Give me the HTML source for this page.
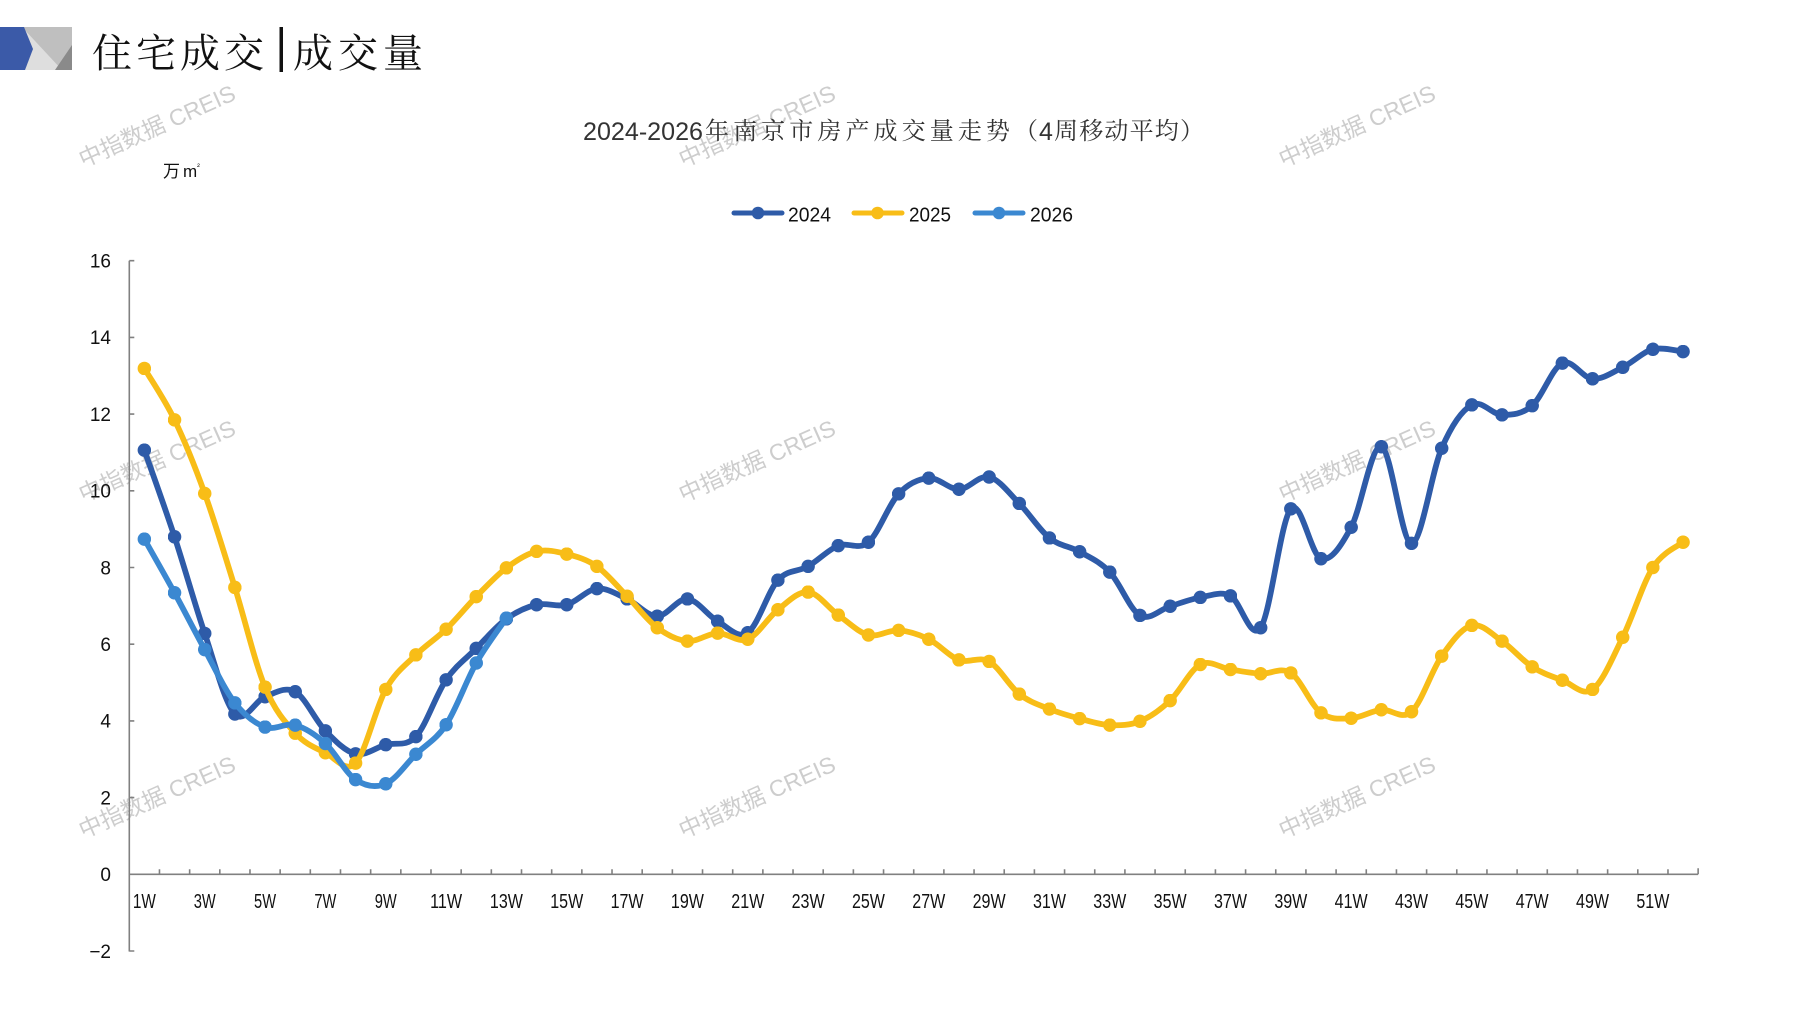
<!DOCTYPE html>
<html>
<head>
<meta charset="utf-8">
<style>
  html,body{margin:0;padding:0;background:#fff;}
  body{width:1797px;height:1010px;overflow:hidden;position:relative;}
  svg{display:block;}
</style>
</head>
<body>
<svg width="1797" height="1010" viewBox="0 0 1797 1010" xmlns="http://www.w3.org/2000/svg">
  <defs>
    <marker id="m24" viewBox="-1 -1 2 2" markerWidth="2.35" markerHeight="2.35" markerUnits="strokeWidth" refX="0" refY="0"><circle r="1" fill="#2e5ba8"/></marker>
    <marker id="m25" viewBox="-1 -1 2 2" markerWidth="2.35" markerHeight="2.35" markerUnits="strokeWidth" refX="0" refY="0"><circle r="1" fill="#f8bd17"/></marker>
    <marker id="m26" viewBox="-1 -1 2 2" markerWidth="2.35" markerHeight="2.35" markerUnits="strokeWidth" refX="0" refY="0"><circle r="1" fill="#3b88d1"/></marker>
  </defs>

  <!-- header graphic -->
  <g transform="translate(0,27)">
    <rect x="0" y="0" width="72" height="43" fill="#bfbfbf"/>
    <polygon points="22,0 62,43 22,43" fill="#dedede"/>
    <polygon points="72,18 72,43 55,43" fill="#8a8a8a"/>
    <polygon points="0,0 24,0 33,22 25,43 0,43" fill="#3b5aa8"/>
  </g>
  <text x="92" y="67" font-family="'Noto Serif CJK SC','Liberation Serif',serif" font-size="40" fill="#111" textLength="172" lengthAdjust="spacing">住宅成交</text>
  <rect x="279.5" y="27" width="3.5" height="45" fill="#111"/>
  <text x="293" y="67" font-family="'Noto Serif CJK SC','Liberation Serif',serif" font-size="40" fill="#111" textLength="130" lengthAdjust="spacing">成交量</text>

  <!-- watermarks -->
  <g font-family="'Liberation Sans','Noto Sans CJK SC',sans-serif" font-size="23" fill="#cdcdcd" text-anchor="middle" dominant-baseline="central">
    <text transform="translate(157,126) rotate(-24)">中指数据 CREIS</text>
    <text transform="translate(757,126) rotate(-24)">中指数据 CREIS</text>
    <text transform="translate(1357,126) rotate(-24)">中指数据 CREIS</text>
    <text transform="translate(157,461) rotate(-24)">中指数据 CREIS</text>
    <text transform="translate(757,461) rotate(-24)">中指数据 CREIS</text>
    <text transform="translate(1357,461) rotate(-24)">中指数据 CREIS</text>
    <text transform="translate(157,797) rotate(-24)">中指数据 CREIS</text>
    <text transform="translate(757,797) rotate(-24)">中指数据 CREIS</text>
    <text transform="translate(1357,797) rotate(-24)">中指数据 CREIS</text>
  </g>

  <!-- chart title -->
  <g fill="#333">
    <text x="583" y="140" font-family="'Liberation Sans',sans-serif" font-size="25" textLength="120" lengthAdjust="spacingAndGlyphs">2024-2026</text>
    <text x="705" y="139" font-family="'Noto Serif CJK SC','Liberation Serif',serif" font-size="24" textLength="333" lengthAdjust="spacing">年南京市房产成交量走势（</text>
    <text x="1039" y="140" font-family="'Liberation Sans',sans-serif" font-size="25">4</text>
    <text x="1054" y="139" font-family="'Noto Serif CJK SC','Liberation Serif',serif" font-size="24" textLength="150" lengthAdjust="spacing">周移动平均）</text>
  </g>

  <!-- unit -->
  <text x="163" y="177" font-family="'Liberation Sans','Noto Sans CJK SC',sans-serif" font-size="17" fill="#111">万<tspan dx="3">m</tspan><tspan font-size="8" dy="-8">²</tspan></text>

  <!-- legend -->
  <g stroke-width="5" stroke-linecap="round">
    <line x1="734" y1="213" x2="782" y2="213" stroke="#2e5ba8"/>
    <circle cx="758" cy="213" r="6.3" fill="#2e5ba8"/>
    <line x1="854" y1="213" x2="902" y2="213" stroke="#f8bd17"/>
    <circle cx="877.5" cy="213" r="6.3" fill="#f8bd17"/>
    <line x1="975" y1="213" x2="1023" y2="213" stroke="#3b88d1"/>
    <circle cx="999" cy="213" r="6.3" fill="#3b88d1"/>
  </g>
  <g font-family="'Liberation Sans',sans-serif" font-size="20" fill="#111">
    <text x="788" y="221.5" textLength="43" lengthAdjust="spacingAndGlyphs">2024</text>
    <text x="909" y="221.5" textLength="42" lengthAdjust="spacingAndGlyphs">2025</text>
    <text x="1030" y="221.5" textLength="43" lengthAdjust="spacingAndGlyphs">2026</text>
  </g>

  <!-- axes -->
  <g stroke="#808080" stroke-width="1.6" fill="none">
    <line x1="129.3" y1="260.7" x2="129.3" y2="951.5"/>
    <line x1="129.3" y1="874.3" x2="1698.1" y2="874.3"/>
    <path d="M129.3,260.7h5M129.3,337.4h5M129.3,414.1h5M129.3,490.8h5M129.3,567.5h5M129.3,644.2h5M129.3,720.9h5M129.3,797.6h5M129.3,951h5"/>
    <path d="M159.47,874.3v-5M189.64,874.3v-5M219.81,874.3v-5M249.98,874.3v-5M280.15,874.3v-5M310.32,874.3v-5M340.49,874.3v-5M370.66,874.3v-5M400.83,874.3v-5M431,874.3v-5M461.17,874.3v-5M491.34,874.3v-5M521.51,874.3v-5M551.68,874.3v-5M581.85,874.3v-5M612.02,874.3v-5M642.19,874.3v-5M672.36,874.3v-5M702.53,874.3v-5M732.7,874.3v-5M762.87,874.3v-5M793.04,874.3v-5M823.21,874.3v-5M853.38,874.3v-5M883.55,874.3v-5M913.72,874.3v-5M943.89,874.3v-5M974.06,874.3v-5M1004.23,874.3v-5M1034.4,874.3v-5M1064.57,874.3v-5M1094.74,874.3v-5M1124.91,874.3v-5M1155.08,874.3v-5M1185.25,874.3v-5M1215.42,874.3v-5M1245.59,874.3v-5M1275.76,874.3v-5M1305.93,874.3v-5M1336.1,874.3v-5M1366.27,874.3v-5M1396.44,874.3v-5M1426.61,874.3v-5M1456.78,874.3v-5M1486.95,874.3v-5M1517.12,874.3v-5M1547.29,874.3v-5M1577.46,874.3v-5M1607.63,874.3v-5M1637.8,874.3v-5M1667.97,874.3v-5M1698.14,874.3v-6"/>
  </g>

  <!-- y labels -->
  <g font-family="'Liberation Sans',sans-serif" font-size="19" fill="#111" text-anchor="end">
    <text x="111" y="267.5">16</text>
    <text x="111" y="344.2">14</text>
    <text x="111" y="420.9">12</text>
    <text x="111" y="497.6">10</text>
    <text x="111" y="574.3">8</text>
    <text x="111" y="651">6</text>
    <text x="111" y="727.7">4</text>
    <text x="111" y="804.4">2</text>
    <text x="111" y="881.1">0</text>
    <text x="111" y="957.8">−2</text>
  </g>

  <!-- x labels -->
  <g font-family="'Liberation Sans',sans-serif" font-size="20" fill="#111" text-anchor="middle">
    <text x="144.37" y="908" textLength="23" lengthAdjust="spacingAndGlyphs">1W</text>
    <text x="204.71" y="908" textLength="22" lengthAdjust="spacingAndGlyphs">3W</text>
    <text x="265.05" y="908" textLength="22" lengthAdjust="spacingAndGlyphs">5W</text>
    <text x="325.39" y="908" textLength="22" lengthAdjust="spacingAndGlyphs">7W</text>
    <text x="385.73" y="908" textLength="22" lengthAdjust="spacingAndGlyphs">9W</text>
    <text x="446.07" y="908" textLength="32" lengthAdjust="spacingAndGlyphs">11W</text>
    <text x="506.41" y="908" textLength="33" lengthAdjust="spacingAndGlyphs">13W</text>
    <text x="566.75" y="908" textLength="33" lengthAdjust="spacingAndGlyphs">15W</text>
    <text x="627.09" y="908" textLength="33" lengthAdjust="spacingAndGlyphs">17W</text>
    <text x="687.43" y="908" textLength="33" lengthAdjust="spacingAndGlyphs">19W</text>
    <text x="747.77" y="908" textLength="33" lengthAdjust="spacingAndGlyphs">21W</text>
    <text x="808.11" y="908" textLength="33" lengthAdjust="spacingAndGlyphs">23W</text>
    <text x="868.45" y="908" textLength="33" lengthAdjust="spacingAndGlyphs">25W</text>
    <text x="928.79" y="908" textLength="33" lengthAdjust="spacingAndGlyphs">27W</text>
    <text x="989.13" y="908" textLength="33" lengthAdjust="spacingAndGlyphs">29W</text>
    <text x="1049.47" y="908" textLength="33" lengthAdjust="spacingAndGlyphs">31W</text>
    <text x="1109.81" y="908" textLength="33" lengthAdjust="spacingAndGlyphs">33W</text>
    <text x="1170.15" y="908" textLength="33" lengthAdjust="spacingAndGlyphs">35W</text>
    <text x="1230.49" y="908" textLength="33" lengthAdjust="spacingAndGlyphs">37W</text>
    <text x="1290.83" y="908" textLength="33" lengthAdjust="spacingAndGlyphs">39W</text>
    <text x="1351.17" y="908" textLength="33" lengthAdjust="spacingAndGlyphs">41W</text>
    <text x="1411.51" y="908" textLength="33" lengthAdjust="spacingAndGlyphs">43W</text>
    <text x="1471.85" y="908" textLength="33" lengthAdjust="spacingAndGlyphs">45W</text>
    <text x="1532.19" y="908" textLength="33" lengthAdjust="spacingAndGlyphs">47W</text>
    <text x="1592.53" y="908" textLength="33" lengthAdjust="spacingAndGlyphs">49W</text>
    <text x="1652.87" y="908" textLength="33" lengthAdjust="spacingAndGlyphs">51W</text>
  </g>

  <!-- series -->
  <g transform="translate(114.2,874.3) scale(38.35,-38.35)" fill="none" stroke-width="0.15" stroke-linejoin="round" stroke-linecap="round">
    <path class="s" stroke="#2e5ba8" marker-start="url(#m24)" marker-mid="url(#m24)" marker-end="url(#m24)"
      d="M0.7867,11.06 L1.5734,8.80 2.3601,6.28 3.1468,4.18 3.9335,4.63 4.7202,4.76 5.5069,3.74 6.2936,3.14 7.0803,3.38 7.8670,3.59 8.6537,5.07 9.4404,5.89 10.2271,6.66 11.0138,7.03 11.8005,7.03 12.5872,7.45 13.3739,7.18 14.1606,6.73 14.9473,7.18 15.7340,6.60 16.5207,6.30 17.3074,7.67 18.0941,8.03 18.8808,8.57 19.6675,8.66 20.4542,9.92 21.2409,10.33 22.0276,10.04 22.8143,10.36 23.6010,9.67 24.3877,8.77 25.1744,8.41 25.9611,7.88 26.7478,6.75 27.5345,6.99 28.3212,7.22 29.1079,7.26 29.8946,6.43 30.6813,9.53 31.4680,8.23 32.2547,9.05 33.0414,11.15 33.8281,8.63 34.6148,11.11 35.4015,12.24 36.1882,11.98 36.9749,12.22 37.7616,13.33 38.5483,12.92 39.3350,13.22 40.1217,13.69 40.9084,13.63"/>
    <path class="s" stroke="#f8bd17" marker-start="url(#m25)" marker-mid="url(#m25)" marker-end="url(#m25)"
      d="M0.7867,13.19 L1.5734,11.85 2.3601,9.93 3.1468,7.48 3.9335,4.88 4.7202,3.68 5.5069,3.17 6.2936,2.90 7.0803,4.82 7.8670,5.72 8.6537,6.39 9.4404,7.24 10.2271,7.99 11.0138,8.42 11.8005,8.35 12.5872,8.03 13.3739,7.25 14.1606,6.43 14.9473,6.08 15.7340,6.29 16.5207,6.13 17.3074,6.90 18.0941,7.36 18.8808,6.76 19.6675,6.24 20.4542,6.36 21.2409,6.13 22.0276,5.59 22.8143,5.55 23.6010,4.70 24.3877,4.31 25.1744,4.06 25.9611,3.89 26.7478,3.99 27.5345,4.53 28.3212,5.47 29.1079,5.34 29.8946,5.23 30.6813,5.25 31.4680,4.21 32.2547,4.07 33.0414,4.29 33.8281,4.24 34.6148,5.69 35.4015,6.49 36.1882,6.08 36.9749,5.41 37.7616,5.06 38.5483,4.82 39.3350,6.18 40.1217,8.00 40.9084,8.66"/>
    <path class="s" stroke="#3b88d1" marker-start="url(#m26)" marker-mid="url(#m26)" marker-end="url(#m26)"
      d="M0.7867,8.74 L1.5734,7.34 2.3601,5.86 3.1468,4.47 3.9335,3.84 4.7202,3.89 5.5069,3.41 6.2936,2.47 7.0803,2.36 7.8670,3.13 8.6537,3.90 9.4404,5.51 10.2271,6.68"/>
  </g>
</svg>
<script>
(function(){
  var paths=document.querySelectorAll('path.s');
  for(var k=0;k<paths.length;k++){
    var p=paths[k];
    var nums=p.getAttribute('d').replace(/[ML]/g,' ').trim().split(/[\s,]+/).map(Number);
    var pts=[];
    for(var i=0;i+1<nums.length;i+=2){pts.push([nums[i],nums[i+1]]);}
    if(pts.length<2)continue;
    var d='M'+pts[0][0]+','+pts[0][1];
    for(var j=0;j<pts.length-1;j++){
      var p0=pts[j-1]||pts[j],p1=pts[j],p2=pts[j+1],p3=pts[j+2]||pts[j+1];
      var c1x=p1[0]+(p2[0]-p0[0])/6,c1y=p1[1]+(p2[1]-p0[1])/6;
      var c2x=p2[0]-(p3[0]-p1[0])/6,c2y=p2[1]-(p3[1]-p1[1])/6;
      d+=' C'+c1x.toFixed(4)+','+c1y.toFixed(4)+' '+c2x.toFixed(4)+','+c2y.toFixed(4)+' '+p2[0]+','+p2[1];
    }
    p.setAttribute('d',d);
  }
})();
</script>
</body>
</html>
